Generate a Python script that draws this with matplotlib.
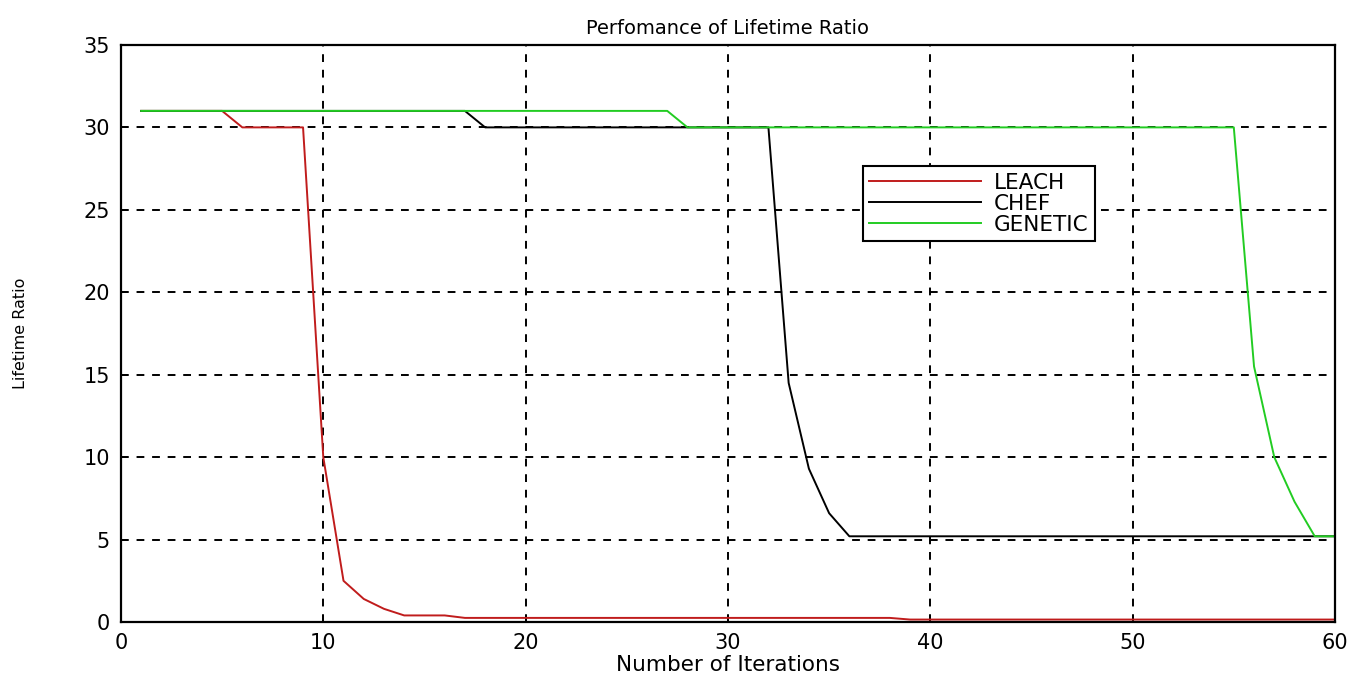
import numpy as np
import matplotlib
matplotlib.use('Agg')
import matplotlib.pyplot as plt

# lifetime ratio per iteration (iterations 1..60)
iterations = np.arange(1, 61)

leach = [31, 31, 31, 31, 31, 30, 30, 30, 30, 10,
         2.5, 1.4, 0.8, 0.4, 0.4, 0.4, 0.25, 0.25, 0.25, 0.25,
         0.25, 0.25, 0.25, 0.25, 0.25, 0.25, 0.25, 0.25, 0.25, 0.25,
         0.25, 0.25, 0.25, 0.25, 0.25, 0.25, 0.25, 0.25, 0.15, 0.15,
         0.15, 0.15, 0.15, 0.15, 0.15, 0.15, 0.15, 0.15, 0.15, 0.15,
         0.15, 0.15, 0.15, 0.15, 0.15, 0.15, 0.15, 0.15, 0.15, 0.15]

chef = [31, 31, 31, 31, 31, 31, 31, 31, 31, 31,
        31, 31, 31, 31, 31, 31, 31, 30, 30, 30,
        30, 30, 30, 30, 30, 30, 30, 30, 30, 30,
        30, 30, 14.5, 9.3, 6.6, 5.2, 5.2, 5.2, 5.2, 5.2,
        5.2, 5.2, 5.2, 5.2, 5.2, 5.2, 5.2, 5.2, 5.2, 5.2,
        5.2, 5.2, 5.2, 5.2, 5.2, 5.2, 5.2, 5.2, 5.2, 5.2]

genetic = [31, 31, 31, 31, 31, 31, 31, 31, 31, 31,
           31, 31, 31, 31, 31, 31, 31, 31, 31, 31,
           31, 31, 31, 31, 31, 31, 31, 30, 30, 30,
           30, 30, 30, 30, 30, 30, 30, 30, 30, 30,
           30, 30, 30, 30, 30, 30, 30, 30, 30, 30,
           30, 30, 30, 30, 30, 15.5, 10, 7.3, 5.2, 5.2]

labels = ['LEACH', 'CHEF', 'GENETIC']
colors = ['#c01c1c', 'black', '#22cc22']

plt.rcParams['font.family'] = ['DejaVu Sans']

fig = plt.figure(figsize=(13.65, 6.81), dpi=100)
ax = fig.add_axes([0.0886, 0.0866, 0.8894, 0.8474])

for y, lab, c in zip([leach, chef, genetic], labels, colors):
    ax.plot(iterations, y, color=c, lw=1.4, label=lab)

ax.set_xlim(0, 60)
ax.set_ylim(0, 35)
ax.set_xticks(np.arange(0, 61, 10))
ax.set_yticks(np.arange(0, 36, 5))
ax.tick_params(direction='in', length=5, width=1.3, labelsize=15, colors='black', pad=8)
ax.grid(True, color='black', linestyle=(0, (4, 4)), lw=1.4)
for s in ax.spines.values():
    s.set_linewidth(1.6)

ax.set_title('Perfomance of Lifetime Ratio', fontsize=14, pad=8)
ax.set_xlabel('Number of Iterations', fontsize=15.5, labelpad=1)
ax.set_ylabel('Lifetime Ratio', fontsize=11.5, labelpad=40)

leg = ax.legend(loc='upper left', bbox_to_anchor=(0.611, 0.79), fontsize=15.5,
                handlelength=5.2, frameon=True, fancybox=False, framealpha=1,
                borderpad=0.3, labelspacing=0.05, handletextpad=0.6, borderaxespad=0)
leg.get_frame().set_edgecolor('black')
leg.get_frame().set_linewidth(1.5)

fig.savefig('out.png', dpi=100)
